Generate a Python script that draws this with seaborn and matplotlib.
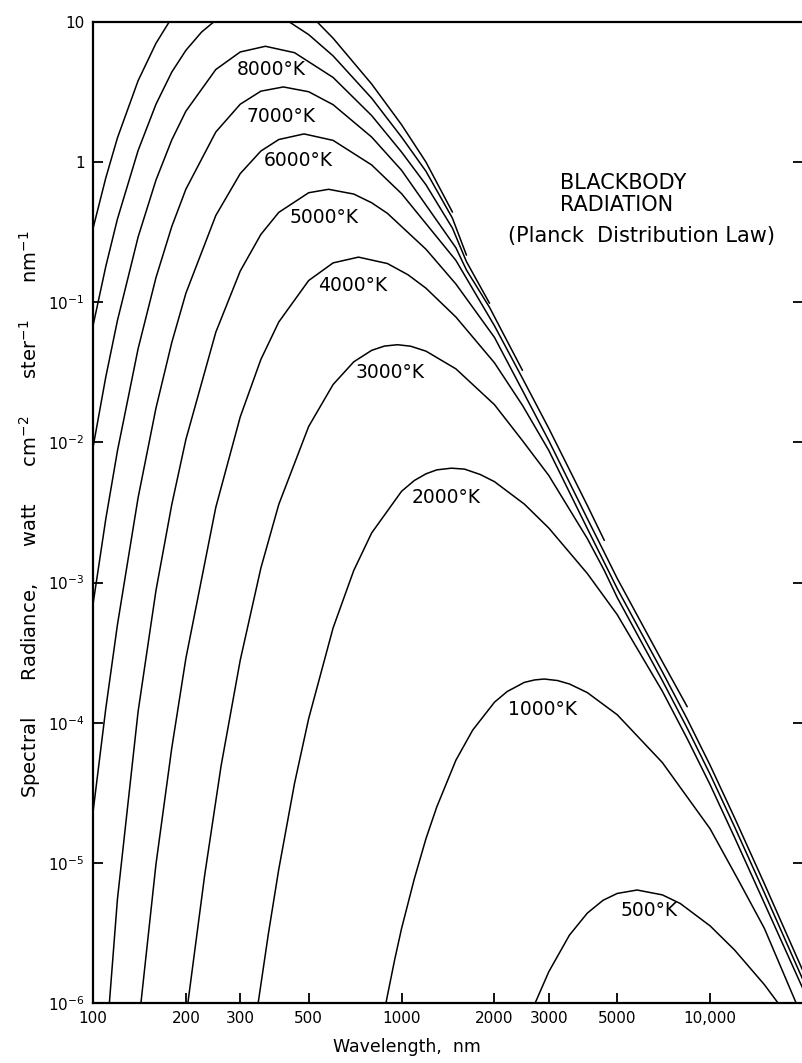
import matplotlib
matplotlib.use("Agg")
import matplotlib.pyplot as plt
import pandas as pd
import seaborn as sns
from matplotlib.ticker import NullLocator

# Spectral radiance (watt cm^-2 ster^-1 nm^-1) against wavelength (nm), per temperature.
# On the long-wave side the hotter curves stop where they close up on the bundle.
wl_500 = [2710, 3000, 3500, 4000, 4500, 5000, 5800, 7000, 8000, 10000, 12000, 15000, 16600]
rad_500 = [1.0e-6, 1.67e-6, 3.05e-6, 4.38e-6, 5.41e-6, 6.05e-6, 6.40e-6, 5.91e-6, 5.13e-6,
           3.55e-6, 2.39e-6, 1.35e-6, 1.0e-6]

wl_1000 = [890, 950, 1000, 1100, 1200, 1300, 1500, 1700, 2000, 2200, 2500, 2700, 2900, 3200,
           3500, 4000, 5000, 7000, 10000, 12400, 15000, 19000]
rad_1000 = [1.0e-6, 2.04e-6, 3.4e-6, 7.7e-6, 1.49e-5, 2.5e-5, 5.4e-5, 8.85e-5, 1.40e-4, 1.67e-4,
            1.94e-4, 2.02e-4, 2.05e-4, 2.0e-4, 1.89e-4, 1.64e-4, 1.14e-4, 5.2e-5, 1.75e-5,
            7.4e-6, 3.4e-6, 1.0e-6]

wl_2000 = [343, 370, 400, 450, 500, 600, 700, 800, 1000, 1100, 1200, 1300, 1450, 1600, 1800,
           2000, 2500, 3000, 4000, 5000, 7000, 8430, 10000, 12000, 15000, 20000]
rad_2000 = [1.0e-6, 3.1e-6, 9.0e-6, 3.7e-5, 1.07e-4, 4.75e-4, 1.22e-3, 2.26e-3, 4.48e-3,
            5.35e-3, 5.97e-3, 6.37e-3, 6.55e-3, 6.45e-3, 5.90e-3, 5.25e-3, 3.63e-3, 2.45e-3,
            1.16e-3, 5.9e-4, 1.68e-4, 7.69e-5, 3.61e-5, 1.52e-5, 5.14e-6, 1.26e-6]

wl_3000 = [203, 230, 260, 300, 350, 400, 500, 600, 700, 800, 880, 970, 1070, 1200, 1500, 2000,
           2465, 3000, 4000, 4540, 5000, 7000, 8430, 10000, 12000, 15000, 20000]
rad_3000 = [1.0e-6, 8.1e-6, 4.9e-5, 2.79e-4, 1.27e-3, 3.61e-3, 0.0130, 0.0259, 0.0376, 0.0454,
            0.0487, 0.0498, 0.0486, 0.0448, 0.0335, 0.0186, 0.0103, 5.81e-3, 2.06e-3, 1.22e-3,
            7.82e-4, 2.0e-4, 9.14e-5, 4.28e-5, 1.81e-5, 6.1e-6, 1.46e-6]

wl_4000 = [143, 160, 180, 200, 250, 300, 350, 400, 500, 600, 725, 900, 1050, 1200, 1500, 2000,
           2465, 3000, 4000, 4540, 5000, 7000, 8430, 10000, 12000, 15000, 20000]
rad_4000 = [1.0e-6, 9.8e-6, 6.6e-5, 2.88e-4, 3.44e-3, 0.0152, 0.0391, 0.0723, 0.143, 0.191,
            0.210, 0.189, 0.157, 0.126, 0.0785, 0.0370, 0.0184, 8.77e-3, 2.43e-3, 1.39e-3,
            9.06e-4, 2.31e-4, 1.06e-4, 4.97e-5, 2.1e-5, 7.08e-6, 1.69e-6]

wl_5000 = [113, 120, 140, 160, 180, 200, 250, 300, 350, 400, 500, 580, 700, 800, 900, 1200,
           1500, 2000, 2465, 3000, 4000, 4540, 5000, 7000, 8430]
rad_5000 = [1.0e-6, 5.5e-6, 1.2e-4, 8.8e-4, 3.6e-3, 0.0105, 0.0611, 0.167, 0.305, 0.438, 0.605,
            0.640, 0.592, 0.513, 0.431, 0.239, 0.135, 0.0562, 0.0235, 0.0103, 2.86e-3,
            1.64e-3, 1.07e-3, 2.73e-4, 1.30e-4]

wl_6000 = [100, 110, 120, 140, 160, 180, 200, 250, 300, 350, 400, 483, 600, 800, 1000, 1500,
           2000, 2465, 3000, 4000, 4540]
rad_6000 = [2.3e-5, 1.26e-4, 5.0e-4, 4.03e-3, 0.0176, 0.0516, 0.116, 0.416, 0.828, 1.20, 1.45,
            1.59, 1.43, 0.955, 0.596, 0.199, 0.068, 0.0287, 0.0126, 3.55e-3, 2.0e-3]

wl_7000 = [100, 110, 120, 140, 160, 180, 200, 250, 300, 350, 414, 500, 600, 800, 1000, 1500,
           1623, 1928, 2465]
rad_7000 = [7.0e-4, 2.84e-3, 8.7e-3, 0.0466, 0.150, 0.347, 0.641, 1.64, 2.59, 3.21, 3.44, 3.18,
            2.57, 1.51, 0.875, 0.245, 0.17, 0.092, 0.0327]

wl_8000 = [100, 110, 120, 140, 160, 180, 200, 250, 300, 362, 450, 600, 800, 1000, 1200, 1462,
           1623, 1928]
rad_8000 = [9.2e-3, 0.0293, 0.0741, 0.292, 0.745, 1.44, 2.31, 4.58, 6.11, 6.71, 6.04, 4.02,
            2.15, 1.18, 0.689, 0.338, 0.195, 0.0984]

# the two hottest curves run off the top of the scale; short- and long-wave branches
wl_9000_short = [100, 110, 120, 140, 160, 180, 200, 225, 246]
rad_9000_short = [0.0679, 0.180, 0.393, 1.21, 2.59, 4.39, 6.28, 8.49, 10.0]
wl_9000_long = [433, 500, 600, 800, 1000, 1200, 1462, 1623]
rad_9000_long = [10.0, 8.13, 5.73, 2.86, 1.51, 0.86, 0.398, 0.217]

wl_10000_short = [100, 110, 120, 140, 160, 176.5]
rad_10000_short = [0.336, 0.771, 1.49, 3.81, 7.05, 10.0]
wl_10000_long = [533, 600, 800, 1000, 1200, 1462]
rad_10000_long = [10.0, 7.66, 3.61, 1.85, 1.0, 0.44]

curve_labels = ["500°K", "1000°K", "2000°K", "3000°K", "4000°K",
                "5000°K", "6000°K", "7000°K", "8000°K"]

x_ticks = [100, 200, 300, 500, 1000, 2000, 3000, 5000, 10000]
x_tick_labels = ["100", "200", "300", "500", "1000", "2000", "3000", "5000", "10,000"]
y_ticks = [1e-6, 1e-5, 1e-4, 1e-3, 1e-2, 1e-1, 1, 10]
y_tick_labels = ["10$^{-6}$", "10$^{-5}$", "10$^{-4}$", "10$^{-3}$", "10$^{-2}$",
                 "10$^{-1}$", "1", "10"]

segments = [
    ("500", wl_500, rad_500), ("1000", wl_1000, rad_1000), ("2000", wl_2000, rad_2000),
    ("3000", wl_3000, rad_3000), ("4000", wl_4000, rad_4000), ("5000", wl_5000, rad_5000),
    ("6000", wl_6000, rad_6000), ("7000", wl_7000, rad_7000), ("8000", wl_8000, rad_8000),
    ("9000a", wl_9000_short, rad_9000_short), ("9000b", wl_9000_long, rad_9000_long),
    ("10000a", wl_10000_short, rad_10000_short), ("10000b", wl_10000_long, rad_10000_long),
]
frames = [pd.DataFrame({"wavelength": w, "radiance": r, "segment": name})
          for name, w, r in segments]
df = pd.concat(frames, ignore_index=True)

sns.set_theme(style="ticks")
plt.rcParams["font.family"] = ["DejaVu Sans"]
plt.rcParams["mathtext.default"] = "regular"
plt.rcParams["text.color"] = "black"

fig = plt.figure(figsize=(8.03, 10.63), dpi=100)
ax = fig.add_axes([93 / 803, 60 / 1063, 710 / 803, 981 / 1063])
ax.set_xscale("log")
ax.set_yscale("log")

sns.lineplot(data=df, x="wavelength", y="radiance", units="segment", estimator=None,
             sort=False, color="black", linewidth=1.1, ax=ax)

ax.set_xlim(100, 20000)
ax.set_ylim(1e-6, 10)

ax.set_xticks(x_ticks)
ax.set_xticklabels(x_tick_labels)
ax.set_yticks(y_ticks)
ax.set_yticklabels(y_tick_labels)
ax.xaxis.set_minor_locator(NullLocator())
ax.yaxis.set_minor_locator(NullLocator())
ax.tick_params(axis="both", which="major", direction="in", length=7, width=1.3,
               labelsize=11, colors="black", pad=6)
ax.tick_params(axis="y", left=True, right=True)
ax.tick_params(axis="x", top=False)
for side in ["left", "bottom", "top"]:
    ax.spines[side].set_linewidth(1.6)
    ax.spines[side].set_color("black")
ax.spines["right"].set_visible(False)

ax.set_xlabel("")
ax.set_ylabel("")
fig.text(407 / 803, 1 - 1047 / 1063, "Wavelength,  nm", ha="center", va="center",
         fontsize=12.5)
fig.text(30 / 803, 1 - 514 / 1063,
         "Spectral      Radiance,      watt      cm$^{-2}$      ster$^{-1}$      nm$^{-1}$",
         rotation=90, ha="center", va="center", fontsize=14)

# temperature labels, placed beneath each maximum (axes fractions)
label_pos = [(0.7831, 0.0938), (0.6338, 0.2987), (0.4972, 0.5148), (0.4183, 0.6432),
             (0.3662, 0.7309), (0.3254, 0.8012), (0.2887, 0.8593), (0.2648, 0.9032),
             (0.2507, 0.9511)]
for text, (px, py) in zip(curve_labels, label_pos):
    ax.text(px, py, text, transform=ax.transAxes, ha="center", va="center", fontsize=13.5)

ax.text((560 - 93) / 710, (1003 - 194) / 981, "BLACKBODY\nRADIATION", transform=ax.transAxes,
        ha="left", va="center", fontsize=15, linespacing=1.12)
ax.text((642 - 93) / 710, (1003 - 236) / 981, "(Planck  Distribution Law)",
        transform=ax.transAxes, ha="center", va="center", fontsize=15)

fig.savefig("out.png", dpi=100, facecolor="white")
